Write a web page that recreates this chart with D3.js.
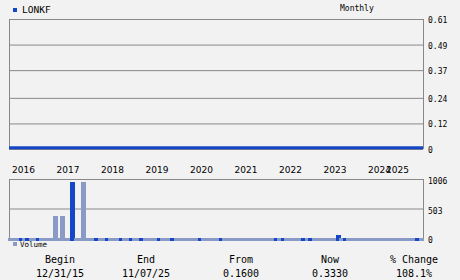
<!DOCTYPE html>
<html>
<head>
<meta charset="utf-8">
<script src="https://cdn.jsdelivr.net/npm/d3@7"></script>
<style>
  body { margin: 0; background: #f2f2f2; }
  text { font-family: "DejaVu Sans Mono", monospace; fill: #000; }
</style>
</head>
<body>
<script>
var symbol = "LONKF";
var period = "Monthly";

// price ticks (right axis, top panel)
var priceTicks = [0, 0.12, 0.24, 0.37, 0.49, 0.61];
var volTicks = [0, 503, 1006];
var yearLabels = ["2016", "2017", "2018", "2019", "2020", "2021", "2022", "2023", "2024", "2025"];

// price drawn as a flat line at the bottom of the scale
var priceMonths = [0, 12, 24, 36, 48, 60, 72, 84, 96, 108, 119];
var priceValues = [0.001, 0.001, 0.001, 0.001, 0.001, 0.001, 0.001, 0.001, 0.001, 0.001, 0.001];

// monthly volume, Dec 2015 .. Nov 2025 (thousands)
var volume = [
  4, 5, 3, 4, 2, 4, 0, 5, 4, 2, 3, 4,
  3, 380, 2, 380, 2, 3, 950, 2, 3, 950, 3, 2,
  2, 3, 1, 2, 3, 2, 2, 4, 2, 3, 2, 3,
  2, 2, 3, 2, 1, 2, 2, 3, 2, 2, 3, 3,
  2, 3, 2, 2, 3, 2, 2, 3, 2, 2, 3, 2,
  2, 3, 2, 2, 2, 3, 2, 2, 3, 2, 2, 2,
  3, 2, 2, 3, 2, 4, 2, 5, 2, 3, 2, 2,
  3, 4, 2, 5, 3, 2, 2, 3, 2, 5, 4, 50,
  2, 3, 2, 2, 3, 2, 2, 2, 3, 2, 2, 3,
  2, 2, 3, 2, 2, 3, 2, 2, 3, 5, 2, 3
];
var upMonths = [3, 5, 8, 18, 25, 28, 32, 35, 38, 43, 47, 55, 61, 77, 79, 85, 87, 95, 97, 118];

var statHeads = ["Begin", "End", "From", "Now", "% Change"];
var statVals = ["12/31/15", "11/07/25", "0.1600", "0.3330", "108.1%"];

var W = 460, H = 280;
var left = 9, right = 423;
var blue = "#1446c8", grey = "#8a9ac6", grid = "#888";

var svg = d3.select("body").append("svg")
    .attr("width", W)
    .attr("height", H);

svg.append("rect").attr("width", W).attr("height", H).attr("fill", "#f2f2f2");

var x = d3.scaleBand()
    .domain(d3.range(volume.length))
    .range([left, right])
    .paddingInner(0);

// top panel
var y = d3.scaleLinear().domain([0, 0.61]).range([149, 19]);

svg.selectAll(".pgrid")
    .data(priceTicks)
    .enter().append("line")
    .attr("x1", left).attr("x2", right)
    .attr("y1", function(d) { return y(d) + 0.5; })
    .attr("y2", function(d) { return y(d) + 0.5; })
    .attr("stroke", grid);

svg.append("line")
    .attr("x1", left + 0.5).attr("x2", left + 0.5)
    .attr("y1", y(0.61)).attr("y2", y(0))
    .attr("stroke", grid);
svg.append("line")
    .attr("x1", right + 0.5).attr("x2", right + 0.5)
    .attr("y1", y(0.61)).attr("y2", y(0))
    .attr("stroke", grid);

svg.selectAll(".plab")
    .data(priceTicks)
    .enter().append("text")
    .attr("x", 428)
    .attr("y", function(d) { return y(d) + 4; })
    .style("font-size", "8px")
    .text(function(d) { return d === 0 ? "0" : d.toFixed(2); });

var line = d3.line()
    .x(function(d, i) { return x(priceMonths[i]) + (priceMonths[i] === 0 ? 0 : x.bandwidth()); })
    .y(function(d) { return y(d) - 1; });

svg.append("path")
    .datum(priceValues)
    .attr("d", line)
    .attr("fill", "none")
    .attr("stroke", blue)
    .attr("stroke-width", 3);

// year labels (2024 and 2025 overlap in the original too)
var yx = d3.scalePoint().domain(yearLabels.slice(0, 9)).range([12, 368]);
svg.selectAll(".year")
    .data(yearLabels)
    .enter().append("text")
    .attr("x", function(d, i) { return i < 9 ? yx(d) : 386; })
    .attr("y", 173)
    .style("font-family", "'DejaVu Sans', sans-serif")
    .style("font-size", "9px")
    .text(function(d) { return d; });

// volume panel
var vy = d3.scaleLinear().domain([0, 1006]).range([238, 179]);

svg.selectAll(".vgrid")
    .data(volTicks.slice(1))
    .enter().append("line")
    .attr("x1", left).attr("x2", right)
    .attr("y1", function(d) { return vy(d) + 0.5; })
    .attr("y2", function(d) { return vy(d) + 0.5; })
    .attr("stroke", grid);
svg.append("line")
    .attr("x1", left + 0.5).attr("x2", left + 0.5)
    .attr("y1", vy(1006)).attr("y2", vy(0) + 3)
    .attr("stroke", grid);
svg.append("line")
    .attr("x1", right + 0.5).attr("x2", right + 0.5)
    .attr("y1", vy(1006)).attr("y2", vy(0) + 3)
    .attr("stroke", grid);

svg.selectAll(".vlab")
    .data(volTicks)
    .enter().append("text")
    .attr("x", 428)
    .attr("y", function(d) { return vy(d) + 5; })
    .style("font-size", "8px")
    .text(function(d) { return d; });

svg.selectAll(".bar")
    .data(volume)
    .enter().append("rect")
    .attr("x", function(d, i) { return Math.round(x(i) + x.bandwidth() / 2 - 2.5); })
    .attr("y", function(d) { return Math.round(vy(d)); })
    .attr("width", 5)
    .attr("height", function(d) { return vy(0) + 3 - Math.round(vy(d)); })
    .attr("fill", function(d, i) { return upMonths.indexOf(i) >= 0 ? blue : grey; });

// legends
svg.append("rect").attr("x", 13).attr("y", 8).attr("width", 4).attr("height", 4).attr("fill", blue);
svg.append("text").attr("x", 22).attr("y", 13).style("font-size", "9.5px").text(symbol);
svg.append("text").attr("x", 340).attr("y", 11).style("font-size", "8px").text(period);

svg.append("rect").attr("x", 13).attr("y", 242).attr("width", 4).attr("height", 4).attr("fill", grey);
svg.append("text").attr("x", 20).attr("y", 247).style("font-size", "7.5px").text("Volume");

// stats
var statCx = [60, 146, 241, 330, 414];
svg.selectAll(".shead")
    .data(statHeads)
    .enter().append("text")
    .attr("x", function(d, i) { return statCx[i]; })
    .attr("y", 263)
    .attr("text-anchor", "middle")
    .style("font-size", "10px")
    .text(function(d) { return d; });
svg.selectAll(".sval")
    .data(statVals)
    .enter().append("text")
    .attr("x", function(d, i) { return statCx[i]; })
    .attr("y", 277)
    .attr("text-anchor", "middle")
    .style("font-size", "10px")
    .text(function(d) { return d; });
</script>
</body>
</html>
